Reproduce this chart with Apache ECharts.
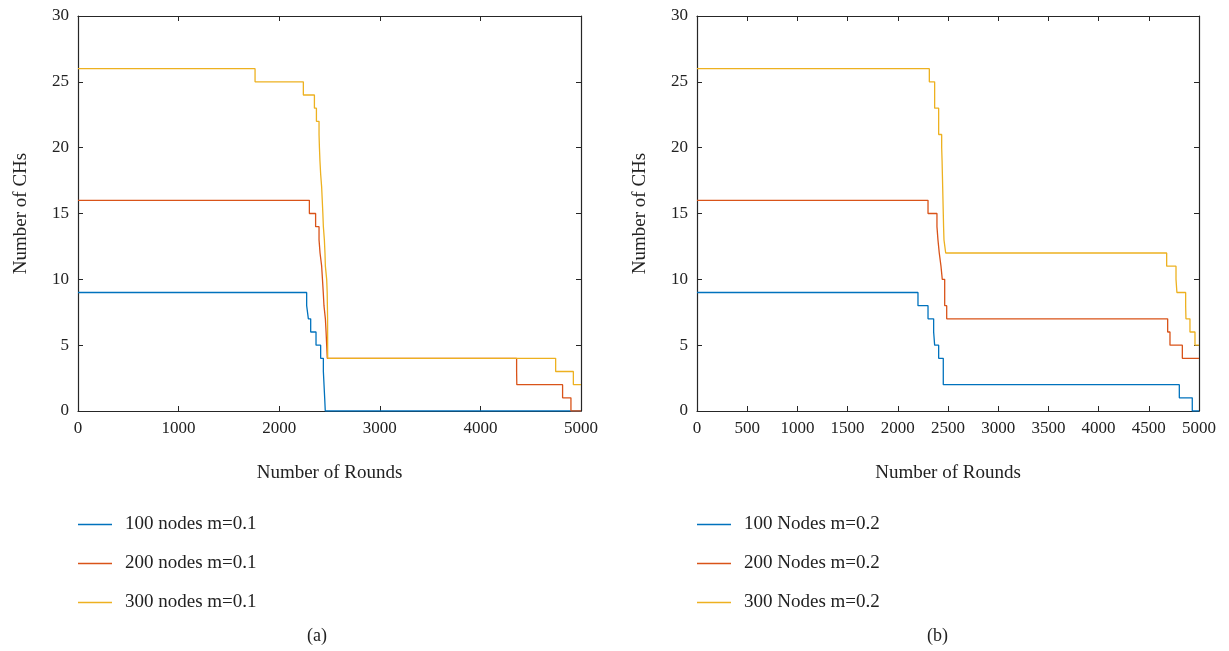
<!DOCTYPE html>
<html><head><meta charset="utf-8">
<script src="https://cdn.jsdelivr.net/npm/echarts@6/dist/echarts.min.js"></script>
<style>html,body{margin:0;padding:0;background:#fff}#c{width:1229px;height:651px}</style>
</head><body><div id="c"></div>
<script>
// Step data: [round, number of CHs] — value holds from this round until the next entry
const aNames = ['100 nodes m=0.1','200 nodes m=0.1','300 nodes m=0.1'];
const bNames = ['100 Nodes m=0.2','200 Nodes m=0.2','300 Nodes m=0.2'];
const xTicksA = 1000, xTicksB = 500;
const aBlue = [[0,9],[2273,8],[2290,7],[2313,6],[2366,5],[2412,4],[2439,3],[2452,1],[2458,0],[5000,0]];
const aRed = [[0,16],[2300,15],[2362,14],[2396,13],[2406,12],[2422,11],[2430,10],[2438,9],[2445,8],[2459,7],[2466,6],[2472,5],[2478,4],[4360,3],[4362,2],[4817,1],[4900,0],[5000,0]];
const aYellow = [[0,26],[1760,25],[2240,24],[2350,23],[2370,22],[2396,21],[2400,20],[2405,19],[2412,18],[2422,17],[2428,16],[2434,15],[2439,14],[2449,13],[2455,12],[2459,11],[2472,10],[2477,9],[2479,8],[2481,7],[2482,4],[4748,3],[4924,2],[5000,2]];
const bBlue = [[0,9],[2201,8],[2301,7],[2357,6],[2367,5],[2407,4],[2453,2],[4804,1],[4933,0],[5000,0]];
const bRed = [[0,16],[2301,15],[2390,14],[2400,13],[2413,12],[2430,11],[2443,10],[2467,8],[2487,7],[4688,6],[4711,5],[4834,4],[5000,4]];
const bYellow = [[0,26],[2314,25],[2367,23],[2407,21],[2437,20],[2441,19],[2444,18],[2447,17],[2450,16],[2453,15],[2456,14],[2460,13],[2477,12],[4678,11],[4771,10],[4780,9],[4867,8],[4870,7],[4910,6],[4960,5],[5000,5]];

const colors = ['#0072BD','#D95319','#EDB120'];
const font = 'Liberation Serif';
const axisCol = '#262626';
const txtCol = '#222';
const grids = [
  {left:78, right:648, top:16, bottom:240},
  {left:697, right:30, top:16, bottom:240}
];
function xAxes(gi, interval){
  return [
    {type:'value', gridIndex:gi, min:0, max:5000, interval:interval,
     name:'Number of Rounds', nameLocation:'middle', nameGap:53,
     nameTextStyle:{fontFamily:font, fontSize:19, color:txtCol},
     axisLine:{show:true, onZero:false, lineStyle:{color:axisCol, width:1.2}},
     axisTick:{inside:true, length:5, lineStyle:{color:axisCol}},
     axisLabel:{fontFamily:font, fontSize:17, color:txtCol, margin:9, formatter:v=>String(v)},
     splitLine:{show:false}},
    {type:'value', gridIndex:gi, position:'top', min:0, max:5000, interval:interval,
     axisLine:{show:true, onZero:false, lineStyle:{color:axisCol, width:1.2}},
     axisTick:{inside:true, length:5, lineStyle:{color:axisCol}},
     axisLabel:{show:false}, splitLine:{show:false}}
  ];
}
function yAxes(gi){
  return [
    {type:'value', gridIndex:gi, min:0, max:30, interval:5,
     name:'Number of CHs', nameLocation:'middle', nameGap:47,
     nameTextStyle:{fontFamily:font, fontSize:19, color:txtCol},
     axisLine:{show:true, onZero:false, lineStyle:{color:axisCol, width:1.2}},
     axisTick:{show:true, inside:true, length:5, lineStyle:{color:axisCol}},
     axisLabel:{fontFamily:font, fontSize:17, color:txtCol, margin:9},
     splitLine:{show:false}},
    {type:'value', gridIndex:gi, position:'right', min:0, max:30, interval:5,
     axisLine:{show:true, onZero:false, lineStyle:{color:axisCol, width:1.2}},
     axisTick:{show:true, inside:true, length:5, lineStyle:{color:axisCol}},
     axisLabel:{show:false}, splitLine:{show:false}}
  ];
}
function ser(name, data, ci, axIdx){
  return {name:name, type:'line', step:'end', data:data, xAxisIndex:axIdx, yAxisIndex:axIdx,
    symbol:'none', lineStyle:{width:1.3, color:colors[ci]}, itemStyle:{color:colors[ci]},
    animation:false, z:3};
}
const legendCommon = {orient:'vertical', top:510, itemWidth:34, itemHeight:1.5, itemGap:20,
  icon:'rect', textStyle:{fontFamily:font, fontSize:19, color:txtCol, padding:[0,0,0,8]}, selectedMode:false};
const option = {
  backgroundColor:'#fff',
  animation:false,
  grid: grids,
  xAxis: [...xAxes(0, xTicksA), ...xAxes(1, xTicksB)],
  yAxis: [...yAxes(0), ...yAxes(1)],
  legend: [
    Object.assign({}, legendCommon, {left:73, data:aNames}),
    Object.assign({}, legendCommon, {left:692, data:bNames})
  ],
  title: [
    {text:'(a)', left:302, top:622, textStyle:{fontFamily:font, fontSize:18, fontWeight:'normal', color:txtCol}},
    {text:'(b)', left:922, top:622, textStyle:{fontFamily:font, fontSize:18, fontWeight:'normal', color:txtCol}}
  ],
  series: [
    ser(aNames[0], aBlue, 0, 0), ser(aNames[1], aRed, 1, 0), ser(aNames[2], aYellow, 2, 0),
    ser(bNames[0], bBlue, 0, 2), ser(bNames[1], bRed, 1, 2), ser(bNames[2], bYellow, 2, 2)
  ]
};
const chart = echarts.init(document.getElementById('c'), null, {renderer:'canvas'});
chart.setOption(option);
</script></body></html>
